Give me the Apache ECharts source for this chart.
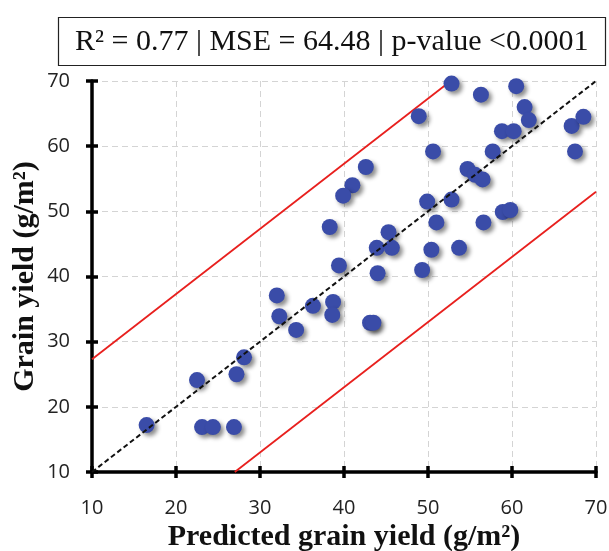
<!DOCTYPE html>
<html>
<head>
<meta charset="utf-8">
<script src="https://cdn.jsdelivr.net/npm/echarts@6/dist/echarts.min.js"></script>
<style>
  html, body { margin: 0; padding: 0; background: #fff; }
  #main { width: 609px; height: 551px; }
</style>
</head>
<body>
<div id="main"></div>
<script>
// predicted (x) vs observed (y) grain yield, g/m2
var predicted = [52.8, 56.3, 60.5, 61.5, 62.0, 48.9, 67.1, 68.5, 67.5, 58.8,
                 60.2, 50.6, 57.7, 42.6, 41.0, 39.9, 54.7, 55.6, 56.5, 49.9,
                 52.8, 58.9, 59.8, 38.3, 51.0, 56.6, 45.3, 43.9, 45.7, 50.4,
                 53.7, 39.4, 44.0, 49.3, 32.0, 36.3, 38.7, 38.6, 32.3, 34.3,
                 28.1, 27.2, 22.5, 16.5, 23.1, 24.4, 26.9, 43.1, 43.5];
var observed  = [69.6, 67.9, 69.2, 66.0, 64.0, 64.6, 63.1, 64.5, 59.2, 62.3,
                 62.3, 59.2, 59.2, 56.8, 54.0, 52.4, 56.5, 55.6, 54.9, 51.5,
                 51.8, 49.9, 50.2, 47.6, 48.3, 48.3, 46.8, 44.4, 44.4, 44.1,
                 44.4, 41.7, 40.5, 41.0, 37.1, 35.5, 36.1, 34.1, 33.9, 31.8,
                 27.6, 25.0, 24.1, 17.2, 16.9, 16.9, 16.9, 32.9, 32.9];
var oneToOne   = [[10, 10], [70, 70]];
var upperBound = [[10, 27.3], [52.7, 70]];
var lowerBound = [[27, 10], [70, 53]];
var axisTicks  = [10, 20, 30, 40, 50, 60, 70];
var statsText  = 'R\u00B2 = 0.77 | MSE = 64.48 | p-value <0.0001';

var points = predicted.map(function (x, i) { return [x, observed[i]]; });

var myChart = echarts.init(document.getElementById('main'));

var tickFont = { fontFamily: 'Open Sans', fontSize: 20, color: '#222' };
var nameFont = { fontFamily: 'Liberation Serif', fontSize: 30, fontWeight: 'bold', color: '#111' };
var tickLine = { color: '#000', width: 3.5 };

var option = {
    animation: false,
    title: {
        text: statsText,
        left: 58,
        top: 17,
        padding: [10, 17, 9, 17],
        borderColor: '#222',
        borderWidth: 1.2,
        textStyle: { fontFamily: 'Liberation Serif', fontSize: 30, fontWeight: 'normal', color: '#111' }
    },
    grid: { left: 92, right: 13, top: 81, bottom: 79, containLabel: false, outerBoundsMode: 'none' },
    xAxis: [{
        type: 'value', min: axisTicks[0], max: axisTicks[axisTicks.length - 1], interval: 10,
        name: 'Predicted grain yield (g/m\u00B2)', nameLocation: 'middle', nameGap: 50,
        nameMoveOverlap: false,
        nameTextStyle: nameFont,
        axisLine: { lineStyle: tickLine },
        axisTick: { show: true, length: 6, lineStyle: tickLine },
        axisLabel: Object.assign({ margin: 26 }, tickFont),
        splitLine: { show: true, lineStyle: { color: '#d4d4d4', type: [6, 4], width: 1 } }
    }, {
        type: 'value', min: 10, max: 70, interval: 10, position: 'bottom',
        axisLine: { show: false },
        axisTick: { show: true, inside: true, length: 6, lineStyle: tickLine },
        axisLabel: { show: false },
        splitLine: { show: false }
    }],
    yAxis: [{
        type: 'value', min: axisTicks[0], max: axisTicks[axisTicks.length - 1], interval: 10,
        name: 'Grain yield (g/m\u00B2)', nameLocation: 'middle', nameGap: 52,
        nameMoveOverlap: false,
        nameTextStyle: nameFont,
        axisLine: { lineStyle: tickLine },
        axisTick: { show: true, length: 6, lineStyle: tickLine },
        axisLabel: Object.assign({ margin: 22 }, tickFont),
        splitLine: { show: true, lineStyle: { color: '#d4d4d4', type: [6, 4], width: 1 } }
    }, {
        type: 'value', min: 10, max: 70, interval: 10, position: 'left',
        axisLine: { show: false },
        axisTick: { show: true, inside: true, length: 6, lineStyle: tickLine },
        axisLabel: { show: false },
        splitLine: { show: false }
    }],
    series: [{
        type: 'line', data: upperBound, symbol: 'none', z: 2,
        lineStyle: { color: '#e8201e', width: 1.8 }
    }, {
        type: 'line', data: lowerBound, symbol: 'none', z: 2,
        lineStyle: { color: '#e8201e', width: 1.8 }
    }, {
        type: 'line', data: oneToOne, symbol: 'none', z: 4,
        lineStyle: { color: '#111', width: 2, type: [5, 3] }
    }, {
        type: 'scatter', data: points, symbolSize: 16, z: 3,
        itemStyle: {
            color: '#3a4ca8', opacity: 1,
            shadowColor: 'rgba(0,0,0,0.45)', shadowBlur: 4, shadowOffsetX: 3, shadowOffsetY: 3
        }
    }]
};

myChart.setOption(option);
</script>
</body>
</html>
